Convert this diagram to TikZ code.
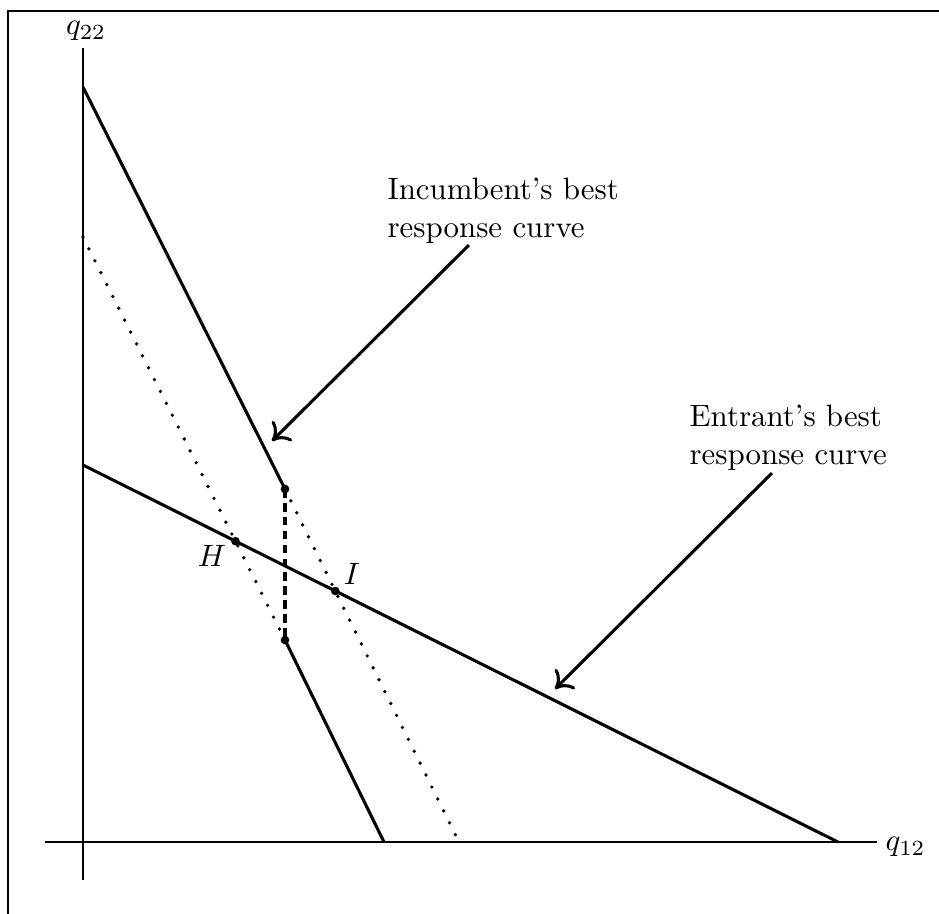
\documentclass[tikz,border=0pt]{standalone}
\usetikzlibrary{arrows.meta}
\begin{document}
\begin{tikzpicture}[x=0.3236pt,y=-0.3236pt,
  axis/.style={line width=0.65pt},
  curve/.style={line width=1pt},
  dotline/.style={line width=1.2pt,line cap=round,dash pattern=on 0pt off 4.3pt},
  dashline/.style={line width=1pt,dash pattern=on 2.8pt off 1.7pt},
  pointer/.style={line width=1pt,-{To[length=5pt,width=9pt]}},
  dot/.style={circle,fill=black,inner sep=0pt,minimum size=2.8pt},
  lbl/.style={inner sep=0pt}]
\clip (0,0) rectangle (939,913);
\useasboundingbox (0,0) rectangle (939,913);
% frame
\draw[line width=0.9pt] (8,930) -- (8,11) -- (960,11);
% coordinates
\coordinate (ytop) at (83,48);
\coordinate (ybot) at (83,880);
\coordinate (xl) at (45,842);
\coordinate (xr) at (877,842);
\coordinate (A) at (83,87);
\coordinate (U) at (285,489);
\coordinate (L) at (285,640);
\coordinate (B) at (384,842);
\coordinate (D1) at (83,237);
\coordinate (D2) at (457,838);
\coordinate (E1) at (83,465);
\coordinate (E2) at (838,842);
\coordinate (Hp) at (intersection of E1--E2 and D1--L);
\coordinate (Ip) at (intersection of E1--E2 and U--D2);
% axes
\draw[axis] (ybot) -- (ytop);
\draw[axis] (xl) -- (xr);
\node[lbl] (q22) at (86,31) {$q_{22}$};
\node[lbl,anchor=west] (q12) at (885,847) {$q_{12}$};
% dotted lines
\draw[dotline] (D1) -- (L);
\draw[dotline] (U) -- (D2);
% incumbent
\draw[curve] (A) -- (U);
\draw[dashline] (U) -- (L);
\draw[curve] (L) -- (B);
% entrant
\draw[curve] (E1) -- (E2);
% dots
\node[dot] (nU) at (U) {};
\node[dot] (nL) at (L) {};
\node[dot] (nH) at (Hp) {};
\node[dot] (nI) at (Ip) {};
\node[lbl] (labH) at (212,556) {$H$};
\node[lbl] (labI) at (352,574) {$I$};
% annotations
\node[lbl,anchor=base west,align=left] (inc) at (387,237) {Incumbent's best\\response curve};
\node[lbl,anchor=base west,align=left] (ent) at (689,464) {Entrant's best\\response curve};
\coordinate (a1s) at (469,245);
\coordinate (a1e) at (272,441);
\coordinate (a2s) at (772,473);
\coordinate (a2e) at (555,689);
\draw[pointer] (a1s) -- (a1e);
\draw[pointer] (a2s) -- (a2e);
\end{tikzpicture}
\end{document}
